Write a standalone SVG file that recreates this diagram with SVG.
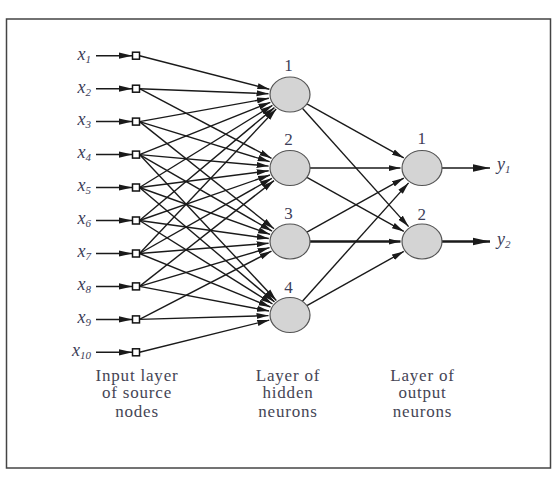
<svg xmlns="http://www.w3.org/2000/svg" width="556" height="483" viewBox="0 0 556 483">
<defs>
<style>
.c{stroke:#1a1a1a;stroke-width:1.4;fill:none;marker-end:url(#ah)}
.ci{stroke:#1a1a1a;stroke-width:1.5;fill:none;marker-end:url(#ai)}
.co{stroke:#1a1a1a;stroke-width:1.4;fill:none;marker-end:url(#ao)}
.thick{stroke-width:2.4}
.sq{fill:#fff;stroke:#111;stroke-width:1.5}
.neu{fill:#d4d4d4;stroke:#555;stroke-width:1.2}
text{font-family:"Liberation Serif","Times New Roman","DejaVu Serif",serif}
.lbl{font-style:italic;font-size:18px;fill:#3d3d58}
.sub{font-size:11px}
.num{font-size:17px;fill:#3d3d58;text-anchor:middle}
.cap{font-size:17px;fill:#454555;text-anchor:middle;letter-spacing:0.8px}
</style>
<marker id="ah" markerUnits="userSpaceOnUse" markerWidth="13" markerHeight="7" refX="12" refY="3.5" orient="auto"><path d="M0,0.5 L12,3.5 L0,6.5 z" fill="#1a1a1a"/></marker>
<marker id="ai" markerUnits="userSpaceOnUse" markerWidth="15" markerHeight="8" refX="14" refY="4" orient="auto"><path d="M0,0.8 L14,4 L0,7.2 z" fill="#1a1a1a"/></marker>
<marker id="ao" markerUnits="userSpaceOnUse" markerWidth="18" markerHeight="9" refX="17" refY="4.5" orient="auto"><path d="M0,0.8 L17,4.5 L0,8.2 z" fill="#1a1a1a"/></marker>
</defs>
<rect x="6.5" y="19" width="544" height="449" fill="#fff" stroke="#444" stroke-width="1.5"/>

<g id="connectors">
<line class="ci" x1="96" y1="55.7" x2="132.5" y2="55.7"/>
<line class="ci" x1="96" y1="88.7" x2="132.5" y2="88.7"/>
<line class="ci" x1="96" y1="121.6" x2="132.5" y2="121.6"/>
<line class="ci" x1="96" y1="154.6" x2="132.5" y2="154.6"/>
<line class="ci" x1="96" y1="187.5" x2="132.5" y2="187.5"/>
<line class="ci" x1="96" y1="220.5" x2="132.5" y2="220.5"/>
<line class="ci" x1="96" y1="253.5" x2="132.5" y2="253.5"/>
<line class="ci" x1="96" y1="286.4" x2="132.5" y2="286.4"/>
<line class="ci" x1="96" y1="319.4" x2="132.5" y2="319.4"/>
<line class="ci" x1="96" y1="352.3" x2="132.5" y2="352.3"/>
<line class="c" x1="139.5" y1="55.7" x2="269.4" y2="89.2"/>
<line class="c" x1="139.5" y1="88.7" x2="268.5" y2="93.7"/>
<line class="c" x1="139.5" y1="121.6" x2="268.9" y2="98.3"/>
<line class="c" x1="139.5" y1="154.6" x2="270.4" y2="102.3"/>
<line class="c" x1="139.5" y1="187.5" x2="272.4" y2="105.4"/>
<line class="c" x1="139.5" y1="220.5" x2="274.4" y2="107.6"/>
<line class="c" x1="139.5" y1="253.5" x2="276.2" y2="109.1"/>
<line class="c" x1="139.5" y1="88.7" x2="271.5" y2="158.3"/>
<line class="c" x1="139.5" y1="121.6" x2="269.7" y2="161.7"/>
<line class="c" x1="139.5" y1="154.6" x2="268.6" y2="166.1"/>
<line class="c" x1="139.5" y1="187.5" x2="268.7" y2="170.8"/>
<line class="c" x1="139.5" y1="220.5" x2="270.0" y2="175.0"/>
<line class="c" x1="139.5" y1="253.5" x2="271.9" y2="178.3"/>
<line class="c" x1="139.5" y1="286.4" x2="274.0" y2="180.6"/>
<line class="c" x1="139.5" y1="121.6" x2="274.0" y2="228.8"/>
<line class="c" x1="139.5" y1="154.6" x2="272.0" y2="231.1"/>
<line class="c" x1="139.5" y1="187.5" x2="270.1" y2="234.4"/>
<line class="c" x1="139.5" y1="220.5" x2="268.8" y2="238.5"/>
<line class="c" x1="139.5" y1="253.5" x2="268.6" y2="243.2"/>
<line class="c" x1="139.5" y1="286.4" x2="269.6" y2="247.6"/>
<line class="c" x1="139.5" y1="319.4" x2="271.5" y2="251.1"/>
<line class="c" x1="139.5" y1="154.6" x2="276.3" y2="300.4"/>
<line class="c" x1="139.5" y1="187.5" x2="274.5" y2="301.9"/>
<line class="c" x1="139.5" y1="220.5" x2="272.5" y2="304.0"/>
<line class="c" x1="139.5" y1="253.5" x2="270.5" y2="307.0"/>
<line class="c" x1="139.5" y1="286.4" x2="269.0" y2="311.0"/>
<line class="c" x1="139.5" y1="319.4" x2="268.5" y2="315.6"/>
<line class="c" x1="139.5" y1="352.3" x2="269.3" y2="320.1"/>
<line class="c" x1="306.9" y1="103.9" x2="403.8" y2="157.9"/>
<line class="c" x1="302.4" y1="108.3" x2="408.6" y2="226.6"/>
<line class="c" x1="310" y1="168" x2="400.5" y2="168"/>
<line class="c" x1="306.9" y1="177.4" x2="403.8" y2="231.4"/>
<line class="c" x1="306.9" y1="232.1" x2="403.8" y2="178.1"/>
<line class="c thick" x1="310" y1="241.5" x2="400.5" y2="241.5"/>
<line class="c" x1="302.4" y1="301.2" x2="408.6" y2="182.9"/>
<line class="c" x1="306.9" y1="305.6" x2="403.8" y2="251.4"/>
<line class="co" x1="442" y1="168" x2="490" y2="168"/>
<line class="co thick" x1="442" y1="241.5" x2="490" y2="241.5"/>
</g>

<g id="inputs">
<g id="in1"><text class="lbl" x="91" y="59.5" text-anchor="end">x<tspan class="sub" dy="3">1</tspan></text><rect class="sq" x="132.5" y="52.2" width="7" height="7"/></g>
<g id="in2"><text class="lbl" x="91" y="92.5" text-anchor="end">x<tspan class="sub" dy="3">2</tspan></text><rect class="sq" x="132.5" y="85.2" width="7" height="7"/></g>
<g id="in3"><text class="lbl" x="91" y="125.4" text-anchor="end">x<tspan class="sub" dy="3">3</tspan></text><rect class="sq" x="132.5" y="118.1" width="7" height="7"/></g>
<g id="in4"><text class="lbl" x="91" y="158.4" text-anchor="end">x<tspan class="sub" dy="3">4</tspan></text><rect class="sq" x="132.5" y="151.1" width="7" height="7"/></g>
<g id="in5"><text class="lbl" x="91" y="191.3" text-anchor="end">x<tspan class="sub" dy="3">5</tspan></text><rect class="sq" x="132.5" y="184" width="7" height="7"/></g>
<g id="in6"><text class="lbl" x="91" y="224.3" text-anchor="end">x<tspan class="sub" dy="3">6</tspan></text><rect class="sq" x="132.5" y="217" width="7" height="7"/></g>
<g id="in7"><text class="lbl" x="91" y="257.3" text-anchor="end">x<tspan class="sub" dy="3">7</tspan></text><rect class="sq" x="132.5" y="250" width="7" height="7"/></g>
<g id="in8"><text class="lbl" x="91" y="290.2" text-anchor="end">x<tspan class="sub" dy="3">8</tspan></text><rect class="sq" x="132.5" y="282.9" width="7" height="7"/></g>
<g id="in9"><text class="lbl" x="91" y="323.2" text-anchor="end">x<tspan class="sub" dy="3">9</tspan></text><rect class="sq" x="132.5" y="315.9" width="7" height="7"/></g>
<g id="in10"><text class="lbl" x="91" y="356.1" text-anchor="end">x<tspan class="sub" dy="3">10</tspan></text><rect class="sq" x="132.5" y="348.8" width="7" height="7"/></g>
</g>

<g id="hidden">
<g id="h1"><ellipse class="neu" cx="290" cy="94.5" rx="20" ry="17.5"/><text class="num" x="288.5" y="71">1</text></g>
<g id="h2"><ellipse class="neu" cx="290" cy="168" rx="20" ry="17.5"/><text class="num" x="288.5" y="145">2</text></g>
<g id="h3"><ellipse class="neu" cx="290" cy="241.5" rx="20" ry="17.5"/><text class="num" x="288.5" y="219">3</text></g>
<g id="h4"><ellipse class="neu" cx="290" cy="315" rx="20" ry="17.5"/><text class="num" x="288.5" y="293">4</text></g>
</g>

<g id="outputs">
<g id="o1"><ellipse class="neu" cx="422" cy="168" rx="20" ry="17.5"/><text class="num" x="421.7" y="144">1</text><text class="lbl" x="497" y="170">y<tspan class="sub" dy="3">1</tspan></text></g>
<g id="o2"><ellipse class="neu" cx="422" cy="241.5" rx="20" ry="17.5"/><text class="num" x="421.7" y="220">2</text><text class="lbl" x="497" y="244.5">y<tspan class="sub" dy="3">2</tspan></text></g>
</g>

<g id="captions">
<text class="cap" x="137" y="380.7">Input layer</text>
<text class="cap" x="137" y="398.3">of source</text>
<text class="cap" x="137" y="416.5">nodes</text>
<text class="cap" x="288" y="380.7">Layer of</text>
<text class="cap" x="288" y="398.3">hidden</text>
<text class="cap" x="288" y="416.5">neurons</text>
<text class="cap" x="422.5" y="380.7">Layer of</text>
<text class="cap" x="422.5" y="398.3">output</text>
<text class="cap" x="422.5" y="416.5">neurons</text>
</g>
</svg>
